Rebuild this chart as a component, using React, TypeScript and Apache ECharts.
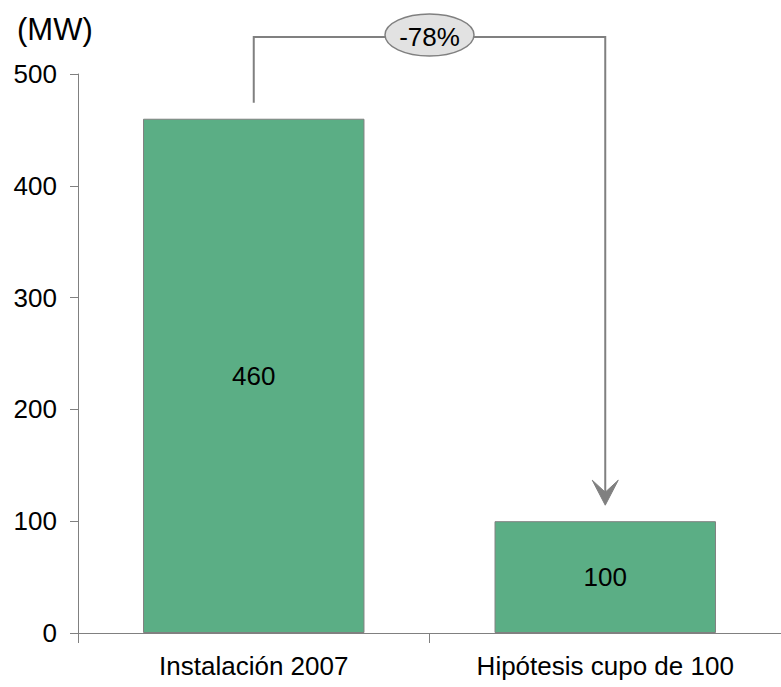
import React, { useEffect, useRef } from "react";
import * as echarts from "echarts";

// Installed capacity (MW)
const categories = ["Instalación 2007", "Hipótesis cupo de 100"];
const capacity = [460, 100];
const yTicks = { min: 0, max: 500, interval: 100 };
const unitLabel = "(MW)";
const changeLabel = "-78%";

const FONT = "'Liberation Sans', Arial, Helvetica, sans-serif";
const GRAY = "#808080";
const GREEN = "#5BAE85";

export default function App() {
  const ref = useRef<HTMLDivElement>(null);

  useEffect(() => {
    if (!ref.current) return;
    const chart = echarts.init(ref.current, undefined, { renderer: "svg" });

    chart.setOption({
      animation: false,
      backgroundColor: "#ffffff",
      textStyle: { fontFamily: FONT },
      title: {
        text: unitLabel,
        left: 12,
        top: 9,
        textStyle: { fontFamily: FONT, fontSize: 31, fontWeight: "normal", color: "#000" },
      },
      grid: { left: 78, top: 74, width: 703, bottom: 54, containLabel: false },
      xAxis: {
        type: "category",
        data: categories,
        axisLine: { lineStyle: { color: GRAY, width: 1 } },
        axisTick: { show: true, length: 10, lineStyle: { color: GRAY } },
        axisLabel: { color: "#000", fontSize: 26, fontFamily: FONT, margin: 20 },
      },
      yAxis: {
        type: "value",
        min: yTicks.min,
        max: yTicks.max,
        interval: yTicks.interval,
        splitLine: { show: false },
        axisLine: { show: true, lineStyle: { color: GRAY, width: 1 } },
        axisTick: { show: true, length: 8, lineStyle: { color: GRAY } },
        axisLabel: { color: "#000", fontSize: 26, fontFamily: FONT, margin: 21 },
      },
      series: [
        {
          type: "bar",
          data: capacity,
          barWidth: "63%",
          itemStyle: { color: GREEN, borderColor: GRAY, borderWidth: 1 },
          label: {
            show: true,
            position: "inside",
            color: "#000",
            fontSize: 26,
            fontFamily: FONT,
          },
        },
      ],
    });

    // Bracket arrow from the first bar down to the second, with the change badge
    const [x1, top1] = chart.convertToPixel({ seriesIndex: 0 }, [0, capacity[0]]) as number[];
    const [x2, top2] = chart.convertToPixel({ seriesIndex: 0 }, [1, capacity[1]]) as number[];
    const gap = 16;
    const levelY = 37;
    const tipY = top2 - gap;
    const midX = (x1 + x2) / 2;

    chart.setOption({
      graphic: [
        {
          type: "polyline",
          z: 10,
          shape: {
            points: [
              [x1, top1 - gap],
              [x1, levelY],
              [x2, levelY],
              [x2, tipY - 10],
            ],
          },
          style: { stroke: GRAY, lineWidth: 2, fill: "none" },
        },
        {
          type: "polygon",
          z: 11,
          shape: {
            points: [
              [x2, tipY],
              [x2 - 13, tipY - 25],
              [x2, tipY - 13],
              [x2 + 13, tipY - 25],
            ],
          },
          style: { fill: GRAY, stroke: GRAY, lineWidth: 1 },
        },
        {
          type: "ellipse",
          z: 12,
          shape: { cx: midX, cy: 35, rx: 44.5, ry: 21 },
          style: { fill: "#e2e2e2", stroke: GRAY, lineWidth: 1.5 },
        },
        {
          type: "text",
          z: 13,
          x: midX,
          y: 37,
          style: {
            text: changeLabel,
            fill: "#000",
            font: `26px ${FONT}`,
            textAlign: "center",
            textVerticalAlign: "middle",
          },
        },
      ],
    });

    return () => chart.dispose();
  }, []);

  return (
    <div
      ref={ref}
      style={{ position: "absolute", left: 0, top: 0, width: 781, height: 687 }}
    />
  );
}
